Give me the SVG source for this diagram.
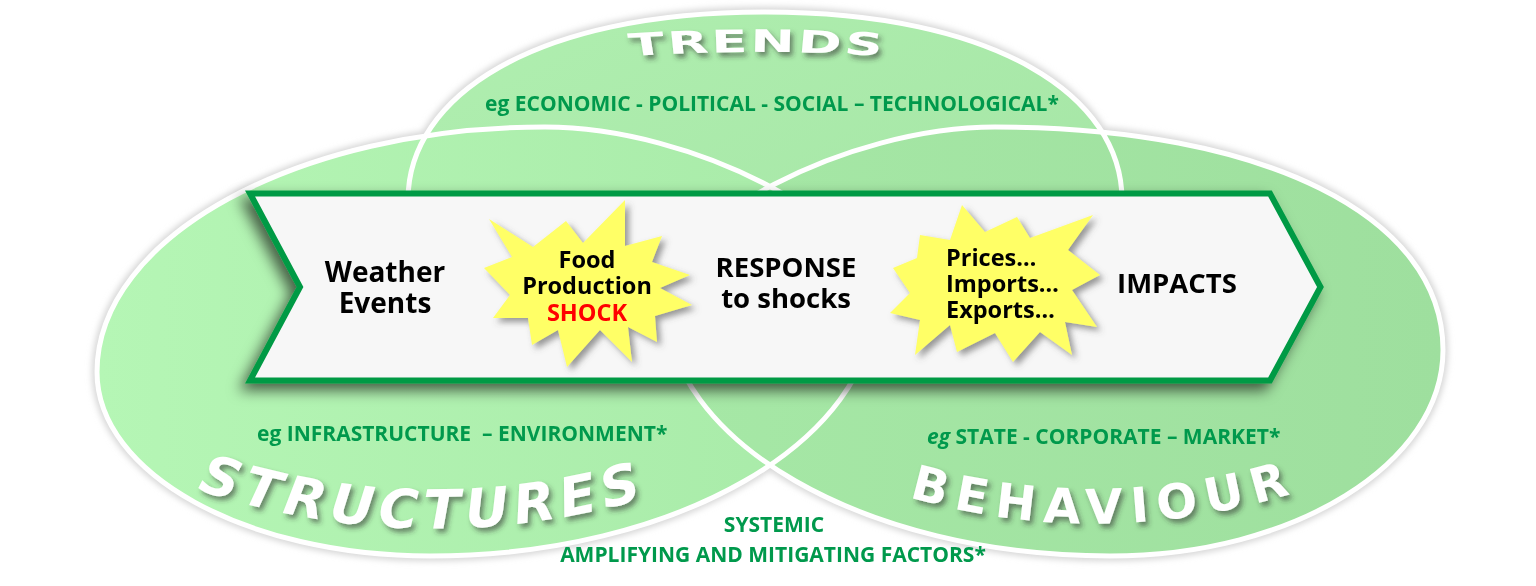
<svg xmlns="http://www.w3.org/2000/svg" width="1536" height="586" viewBox="0 0 1536 586">
<defs>
<linearGradient id="gTop" x1="0" y1="0" x2="1" y2="1"><stop offset="0" stop-color="#b0efb0"/><stop offset="1" stop-color="#a3e3a3"/></linearGradient>
<linearGradient id="gLeft" x1="0" y1="0" x2="1" y2="0"><stop offset="0" stop-color="#b5f6b5"/><stop offset="1" stop-color="#a8eaa8"/></linearGradient>
<linearGradient id="gRight" x1="0" y1="0" x2="1" y2="0"><stop offset="0" stop-color="#a6e8a6"/><stop offset="1" stop-color="#9edf9e"/></linearGradient>
<filter id="halo" x="-10%" y="-10%" width="120%" height="120%"><feGaussianBlur stdDeviation="3"/></filter>
<filter id="arrowShadow" x="-10%" y="-20%" width="120%" height="150%"><feDropShadow dx="-6" dy="7" stdDeviation="7" flood-color="#000" flood-opacity="0.6"/></filter>
<filter id="starShadow" x="-20%" y="-20%" width="140%" height="140%"><feDropShadow dx="4" dy="4" stdDeviation="3" flood-color="#555" flood-opacity="0.6"/></filter>
<filter id="bigShadow" x="-20%" y="-40%" width="140%" height="180%"><feDropShadow dx="3" dy="4" stdDeviation="2.5" flood-color="#333" flood-opacity="0.55"/></filter>
<path id="shTop" d="M 765 12 C 997 12 1122 96.6 1122 200 C 1122 300 990 380 765 380 C 540 380 408 300 408 200 C 408 96.6 533 12 765 12 Z"/>
<path id="shLeft" d="M 97 372 C 97 236.8 298 127 545 127 C 693.5 127 875 222 875 300 C 875 441.3 675.6 556 430 556 C 246 556 97 473.6 97 372 Z"/>
<path id="shRight" d="M 1443 350 C 1443 216 1264 127 995 127 C 846.5 127 665 222 665 300 C 665 441.3 864.4 556 1110 556 C 1293.8 556 1443 463.7 1443 350 Z"/>
<path id="pTrends" d="M 668 58 Q 757 46 846 58"/>
<path id="pStruct" d="M 190 487 Q 420 566 656 495"/>
<path id="pBehav" d="M 898 494 Q 1100 556 1310 488"/>
<style>
.outline{fill:none;stroke:#ffffff;stroke-width:5}
.haloS{fill:none;stroke:#d6d6d6;stroke-width:10}
.lbl{font-family:"Open Sans","Liberation Sans",sans-serif;font-weight:bold;fill:#000}
.grn{font-family:"Open Sans","Liberation Sans",sans-serif;font-weight:bold;fill:#00994c;font-size:21px}
.big{font-family:"DejaVu Sans","Liberation Sans",sans-serif;font-weight:bold;fill:#ffffff}
.star{fill:#ffff66;stroke:none}
</style>
</defs>
<rect width="1536" height="586" fill="#ffffff"/>

<g id="venn">
  <g filter="url(#halo)">
    <use href="#shTop" class="haloS"/>
    <use href="#shLeft" class="haloS"/>
    <use href="#shRight" class="haloS"/>
  </g>
  <use id="trends" href="#shTop" fill="url(#gTop)"/>
  <use id="structures" href="#shLeft" fill="url(#gLeft)"/>
  <use id="behaviour" href="#shRight" fill="url(#gRight)"/>
  <use href="#shTop" class="outline"/>
  <use href="#shLeft" class="outline"/>
  <use href="#shRight" class="outline"/>
</g>

<g id="titles" filter="url(#bigShadow)">
  <g transform="matrix(1.7,0,0,1,-529.9,0)">
    <text class="big" font-size="31" letter-spacing="1.5"><textPath href="#pTrends" startOffset="50%" text-anchor="middle">TRENDS</textPath></text>
  </g>
  <text class="big" font-size="54" font-style="italic" letter-spacing="6"><textPath href="#pStruct" startOffset="50%" text-anchor="middle">STRUCTURES</textPath></text>
  <text class="big" font-size="48" letter-spacing="9"><textPath href="#pBehav" startOffset="50%" text-anchor="middle">BEHAVIOUR</textPath></text>
</g>

<g id="greenLabels">
  <text class="grn" x="772" y="111" text-anchor="middle">eg ECONOMIC - POLITICAL - SOCIAL – TECHNOLOGICAL*</text>
  <text class="grn" x="257" y="441" style="white-space:pre">eg INFRASTRUCTURE  – ENVIRONMENT*</text>
  <text class="grn" x="927" y="444"><tspan font-style="italic">eg</tspan> STATE - CORPORATE – MARKET*</text>
  <text class="grn" x="774" y="532" text-anchor="middle">SYSTEMIC</text>
  <text class="grn" x="773" y="562" text-anchor="middle">AMPLIFYING AND MITIGATING FACTORS*</text>
</g>

<g id="arrow">
  <polygon points="250,193.5 1270,193.5 1320.5,287 1270,380.5 250,380.5 300,287" fill="#f7f7f7" stroke="#009a44" stroke-width="6" filter="url(#arrowShadow)"/>
</g>

<g id="connectors"></g>

<g id="weather">
  <text class="lbl" font-size="28" text-anchor="middle"><tspan x="385" y="282">Weather</tspan><tspan x="385" y="313">Events</tspan></text>
</g>

<g id="shock">
  <polygon class="star" filter="url(#starShadow)" points="489,219 533,247 566,221 583,243 625,200 625,246 662,236 652,262 690,275 660,288 692,305 655,316 657,342 628,327 632,362 600,330 567,367 558,330 532,345 528,318 493,318 510,295 484,268 512,257"/>
  <text class="lbl" font-size="23.5" text-anchor="middle"><tspan x="587" y="268">Food</tspan><tspan x="587" y="294">Production</tspan><tspan x="587" y="321" fill="#ff0000">SHOCK</tspan></text>
</g>

<g id="response">
  <text class="lbl" font-size="27.5" text-anchor="middle"><tspan x="786" y="277">RESPONSE</tspan><tspan x="786" y="308">to shocks</tspan></text>
</g>

<g id="prices">
  <polygon class="star" filter="url(#starShadow)" points="920,235 950,240 962,205 985,232 1017,217 1030,238 1093,215 1068,250 1100,275 1072,290 1097,327 1065,322 1072,355 1040,332 1013,362 995,333 957,352 950,325 915,355 920,320 890,313 910,293 893,268 917,258"/>
  <text class="lbl" font-size="23.5"><tspan x="946" y="266">Prices…</tspan><tspan x="946" y="292">Imports…</tspan><tspan x="946" y="318">Exports…</tspan></text>
</g>

<g id="impacts">
  <text class="lbl" font-size="27.5" x="1177" y="293" text-anchor="middle">IMPACTS</text>
</g>
</svg>
